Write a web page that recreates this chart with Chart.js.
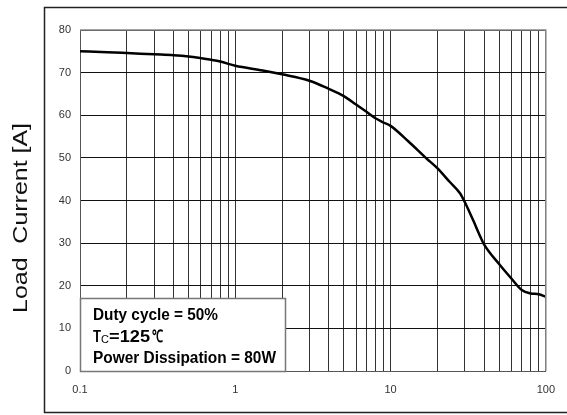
<!DOCTYPE html>
<html>
<head>
<meta charset="utf-8">
<script src="https://cdn.jsdelivr.net/npm/chart.js@4/dist/chart.umd.min.js"></script>
<style>
  html, body { margin: 0; padding: 0; background: #fff; }
  #wrap { width: 567px; height: 415px; position: relative; }
</style>
</head>
<body>
<div id="wrap"><canvas id="loadChart" width="567" height="415"></canvas></div>
<script>
// 데이터
const pulseWidth = [0.1, 0.15, 0.2, 0.3, 0.4, 0.5, 0.7, 0.8, 1, 1.5, 2, 3, 4, 5, 6, 7, 8, 9, 10,
    13, 17, 20, 24, 28, 30, 34, 38, 40, 50, 60, 70, 80, 90, 100];
const loadCurrent = [75.0, 74.8, 74.6, 74.3, 74.1, 73.8, 73.0, 72.6, 71.6, 70.5, 69.6, 68.1, 66.2, 64.5, 62.5, 60.8, 59.3, 58.3, 57.5,
    53.9, 49.9, 47.6, 44.4, 41.7, 39.7, 35.4, 31.4, 29.7, 25.1, 21.7, 19.0, 18.2, 18.0, 17.4];
const xTickLabels = ['0.1', '1', '10', '100'];
const yTicks = [0, 10, 20, 30, 40, 50, 60, 70, 80];
const yTitle = 'Load  Current [A]';
const noteLines = ['Duty cycle = 50%', 'T', 'C', '=125', '℃', 'Power Dissipation = 80W'];

// 로그 눈금 위치 (0.1 ~ 100)
const xGridValues = [];
[0.1, 1, 10].forEach(function(d) {
    for (let i = 1; i < 10; i++) xGridValues.push(+(d * i).toPrecision(3));
});
xGridValues.push(100);

const FONT = '"Liberation Sans", Arial, sans-serif';

function fitText(ctx, txt, x, y, font, w) {
    ctx.font = font;
    const m = ctx.measureText(txt).width;
    ctx.save();
    ctx.translate(x, y);
    ctx.scale(w / m, 1);
    ctx.fillText(txt, 0, 0);
    ctx.restore();
}

// 외곽 박스, 축 제목, 조건 박스
const decorPlugin = {
    id: 'decor',
    beforeDraw(chart) {
        const ctx = chart.ctx;
        ctx.save();
        ctx.strokeStyle = '#222';
        ctx.lineWidth = 1.5;
        ctx.strokeRect(44.5, 7.5, 600, 405);
        ctx.fillStyle = '#111';
        ctx.translate(27, 313);
        ctx.rotate(-Math.PI / 2);
        ctx.textAlign = 'left';
        ctx.textBaseline = 'alphabetic';
        fitText(ctx, yTitle, 0, 0, '20px ' + FONT, 190);
        ctx.restore();
    },
    afterDatasetsDraw(chart) {
        const ctx = chart.ctx;
        const a = chart.chartArea;
        const bx = a.left, by = 298, bw = 205, bh = a.bottom - 298;
        ctx.save();
        ctx.fillStyle = '#fff';
        ctx.fillRect(bx, by, bw, bh);
        ctx.strokeStyle = '#777';
        ctx.lineWidth = 1.5;
        ctx.strokeRect(bx + 0.5, by + 0.5, bw, bh);
        ctx.fillStyle = '#000';
        ctx.textBaseline = 'alphabetic';
        ctx.textAlign = 'left';
        const bold = 'bold 16px ' + FONT;
        fitText(ctx, noteLines[0], 93, 320, bold, 125);
        fitText(ctx, noteLines[1], 93, 342, bold, 8);
        ctx.font = '11px ' + FONT;
        ctx.fillText(noteLines[2], 101, 343);
        fitText(ctx, noteLines[3], 109, 342, bold, 41);
        fitText(ctx, noteLines[4], 152, 342, 'bold 17px ' + FONT, 11);
        fitText(ctx, noteLines[5], 93, 363, bold, 183);
        ctx.restore();
    }
};

new Chart(document.getElementById('loadChart'), {
    type: 'line',
    data: {
        datasets: [{
            data: pulseWidth.map(function(x, i) { return { x: x, y: loadCurrent[i] }; }),
            borderColor: '#000',
            borderWidth: 2.5,
            pointRadius: 0,
            cubicInterpolationMode: 'monotone',
            fill: false
        }]
    },
    options: {
        responsive: false,
        animation: false,
        layout: { padding: { left: 0, top: 30, right: 21, bottom: 0 } },
        plugins: { legend: { display: false }, tooltip: { enabled: false } },
        scales: {
            x: {
                type: 'logarithmic',
                min: 0.1,
                max: 100,
                afterBuildTicks: function(scale) {
                    scale.ticks = xGridValues.map(function(v) { return { value: v }; });
                },
                afterFit: function(scale) { scale.height = 44; },
                ticks: {
                    autoSkip: false,
                    maxRotation: 0,
                    padding: 12,
                    color: '#333',
                    font: { family: FONT, size: 11 },
                    callback: function(v) {
                        const s = String(+v.toPrecision(3));
                        return xTickLabels.indexOf(s) >= 0 ? s : '';
                    }
                },
                grid: { color: '#333', lineWidth: 1, drawTicks: false },
                border: { color: '#555', width: 1 }
            },
            y: {
                min: 0,
                max: 80,
                afterBuildTicks: function(scale) {
                    scale.ticks = yTicks.map(function(v) { return { value: v }; });
                },
                afterFit: function(scale) { scale.width = 80; },
                ticks: {
                    padding: 9,
                    color: '#333',
                    font: { family: FONT, size: 11 }
                },
                grid: { color: '#111', lineWidth: 1, drawTicks: false },
                border: { color: '#555', width: 1 }
            }
        }
    },
    plugins: [decorPlugin, {
        id: 'frame',
        afterDraw(chart) {
            const a = chart.chartArea, ctx = chart.ctx;
            ctx.save();
            ctx.strokeStyle = '#888';
            ctx.lineWidth = 1.5;
            ctx.beginPath();
            ctx.moveTo(a.left, a.top);
            ctx.lineTo(a.right, a.top);
            ctx.lineTo(a.right, a.bottom);
            ctx.stroke();
            ctx.restore();
        }
    }]
});
</script>
</body>
</html>
